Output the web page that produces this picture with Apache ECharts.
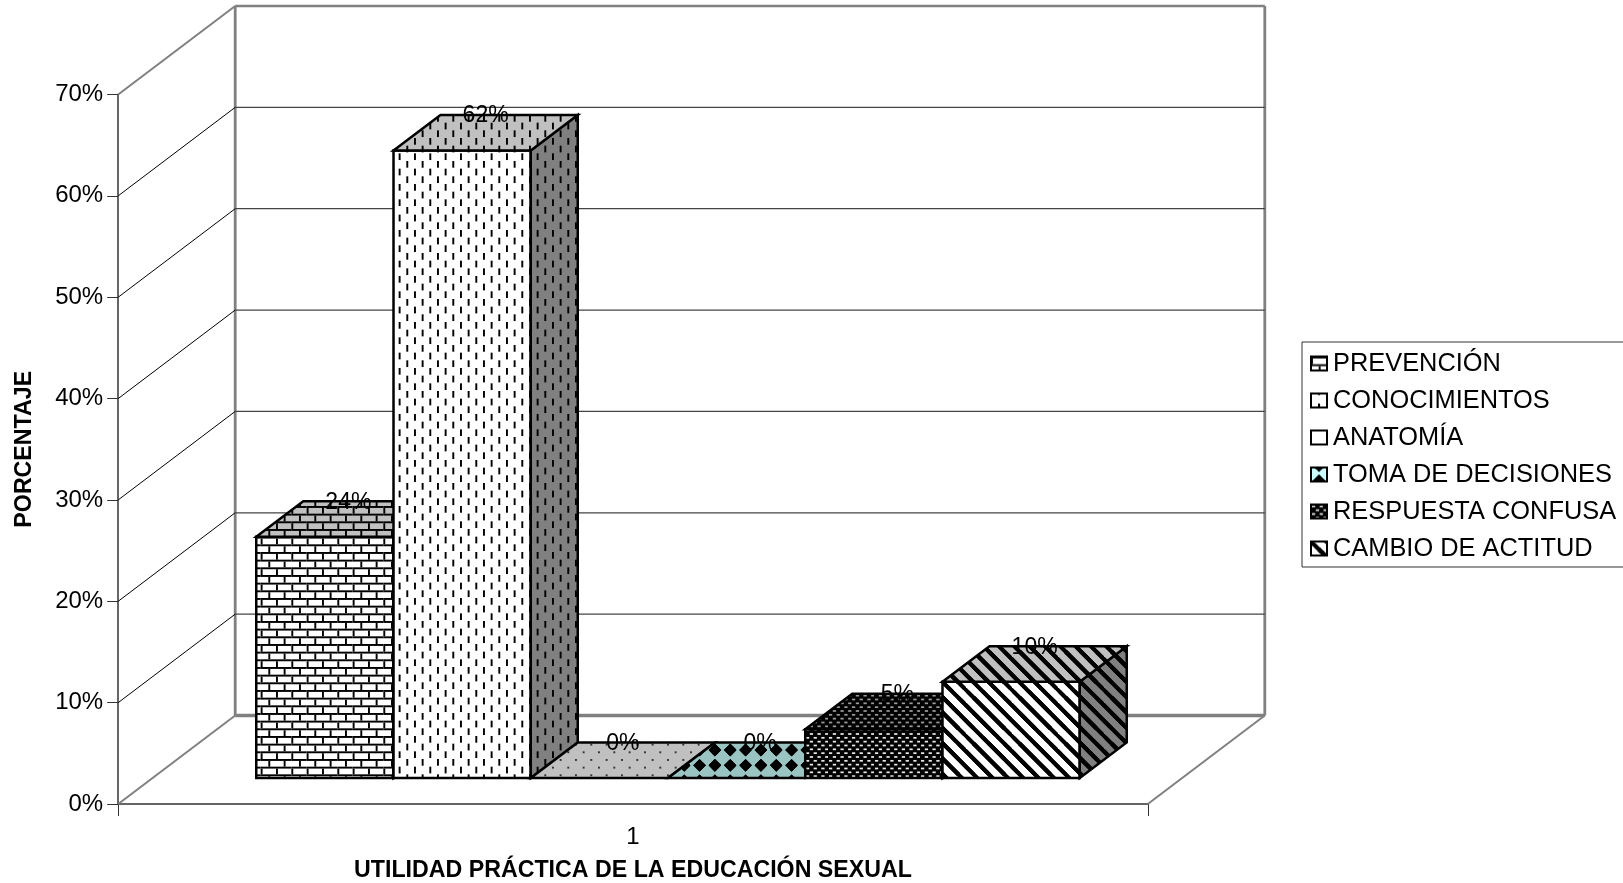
<!DOCTYPE html>
<html><head><meta charset="utf-8">
<style>html,body{margin:0;padding:0;background:#fff}#c{width:1623px;height:883px}</style>
<script src="https://cdn.jsdelivr.net/npm/echarts@6/dist/echarts.min.js"></script>
</head><body><div id="c"></div>
<script>
var categories = ['1'];
var yTicks = [0, 10, 20, 30, 40, 50, 60, 70];
var seriesNames = ['PREVENCIÓN', 'CONOCIMIENTOS', 'ANATOMÍA', 'TOMA DE DECISIONES', 'RESPUESTA CONFUSA', 'CAMBIO DE ACTITUD'];
var prevencion = [23.8];
var conocimientos = [61.9];
var anatomia = [0];
var tomaDecisiones = [0];
var respuestaConfusa = [4.8];
var cambioActitud = [9.5];
var seriesValues = [prevencion, conocimientos, anatomia, tomaDecisiones, respuestaConfusa, cambioActitud];

var FONT = '"Liberation Sans", Arial, sans-serif';
// oblique projection of the 3D scene, in px
var WALL_DX = 117, WALL_DY = 88.5;
var BAR_DX = 47, BAR_DY = 35.5;
var FRONT_DX = 35, FRONT_DY = 26;
var BAR_BAND = 0.1333; // fraction of the category band per bar

function tile(bg, paint) {
  var T = 46, c = document.createElement('canvas');
  c.width = c.height = T;
  var g = c.getContext('2d');
  g.fillStyle = bg; g.fillRect(0, 0, T, T);
  g.save(); g.scale(T / 24, T / 24);
  for (var i = 0; i < 3; i++) for (var j = 0; j < 3; j++) {
    g.save(); g.translate(i * 8, j * 8); g.fillStyle = '#000'; g.strokeStyle = '#000'; paint(g); g.restore();
  }
  g.restore();
  return { image: c, repeat: 'repeat' };
}
function diamond(g, x, y, r) {
  g.beginPath(); g.moveTo(x, y - r); g.lineTo(x + r, y); g.lineTo(x, y + r); g.lineTo(x - r, y); g.closePath(); g.fill();
}
var painters = [
  function (g) { g.fillRect(0, 0, 8, 1); g.fillRect(0, 4, 8, 1); g.fillRect(0, 1, 1, 3); g.fillRect(4, 5, 1, 3); },
  function (g) { g.fillRect(0, 0, 1, 3.5); g.fillRect(4, 4, 1, 3.5); },
  function (g) { g.fillStyle = '#333'; g.fillRect(0, 0, 1, 1); g.fillRect(4, 4, 1, 1); },
  function (g) {
    [[5, 7.3], [-3, 7.3], [13, 7.3], [5, -0.7], [-3, -0.7], [13, -0.7]].forEach(function (p) { diamond(g, p[0], p[1], 3.2); });
  },
  null,
  function (g) {
    g.lineWidth = 2; g.lineCap = 'butt';
    [-8, 0, 8].forEach(function (k) { g.beginPath(); g.moveTo(k - 4, -4); g.lineTo(k + 12, 12); g.stroke(); });
  }
];
function facePatterns(i) {
  function mk(bg, hole) {
    if (i === 4) {
      return tile('#000', function (g) {
        g.fillStyle = hole;
        [[0.5, 0.5], [4.5, 0.5], [2.5, 2.5], [6.5, 2.5], [0.5, 4.5], [4.5, 4.5], [2.5, 6.5], [6.5, 6.5]].forEach(function (p) {
          g.fillRect(p[0], p[1], 1.7, 0.9);
        });
      });
    }
    return tile(bg, painters[i]);
  }
  var teal = i === 3;
  return {
    front: mk(teal ? '#CCFFFF' : '#FFFFFF', '#E8E8E8'),
    top: mk(teal ? '#99C4C2' : '#C0C0C0', '#9A9A9A'),
    side: mk(teal ? '#669090' : '#808080', '#777777')
  };
}
// legend swatches show one centred motif of the hatch (pattern origin is the legend item's corner)
function legendPattern(i) {
  if (i === 1) return tile('#FFFFFF', function (g) { g.fillRect(3.67, 5.25, 1, 3.5); g.fillRect(3.67, -2.75, 1, 3.5); });
  if (i === 2) return '#FFFFFF';
  if (i === 3) return tile('#CCFFFF', function (g) {
    [[4.17, 7], [4.17, -1]].forEach(function (p) { diamond(g, p[0], p[1], 3.4); });
  });
  return facePatterns(i).front;
}

function barSeries(i) {
  var pats = facePatterns(i);
  return {
    name: seriesNames[i],
    type: 'custom',
    silent: true,
    coordinateSystem: 'cartesian2d',
    itemStyle: { color: pats.front, borderColor: '#000', borderWidth: 1.5 },
    data: seriesValues[i].map(function (v, k) { return [categories[k], v]; }),
    encode: { x: 0, y: 1 },
    renderItem: function (params, api) {
      var value = api.value(1);
      var c = api.coord([api.value(0), value]);
      var base = api.coord([api.value(0), 0]);
      var band = api.size([1, 0])[0];
      var w = band * BAR_BAND;
      var x0 = c[0] + FRONT_DX + (i - 3) * w;
      var x1 = x0 + w;
      var yb = base[1] - FRONT_DY;
      var yt = c[1] - FRONT_DY;
      var lw = 2.5;
      function poly(pts, fill) {
        return { type: 'polygon', shape: { points: pts }, style: { fill: fill, stroke: '#000', lineWidth: lw, lineJoin: 'miter' } };
      }
      var children = [];
      if (value > 0) {
        children.push(poly([[x0, yb], [x1, yb], [x1, yt], [x0, yt]], pats.front));
        children.push(poly([[x1, yb], [x1 + BAR_DX, yb - BAR_DY], [x1 + BAR_DX, yt - BAR_DY], [x1, yt]], pats.side));
      }
      children.push(poly([[x0, yt], [x1, yt], [x1 + BAR_DX, yt - BAR_DY], [x0 + BAR_DX, yt - BAR_DY]], pats.top));
      children.push({
        type: 'text', z2: 100,
        style: {
          text: Math.round(value) + '%',
          x: (x0 + x1) / 2 + BAR_DX / 2, y: yt - BAR_DY + 1,
          align: 'center', verticalAlign: 'middle',
          fill: '#000', font: '23px ' + FONT
        }
      });
      return { type: 'group', children: children };
    }
  };
}

var wallSeries = {
  name: 'walls',
  type: 'custom',
  silent: true,
  coordinateSystem: 'cartesian2d',
  data: yTicks.map(function (t) { return [categories[0], t]; }),
  encode: { x: 0, y: 1 },
  renderItem: function (params, api) {
    var cs = params.coordSys;
    var v = api.value(1);
    var y = api.coord([api.value(0), v])[1];
    var xl = cs.x, xr = cs.x + cs.width;
    var bx0 = xl + WALL_DX, bx1 = xr + WALL_DX, by = y - WALL_DY;
    function line(a, b, c, d, col, w) {
      return { type: 'line', shape: { x1: a, y1: b, x2: c, y2: d }, style: { stroke: col, lineWidth: w } };
    }
    var ch = [];
    var isBase = v === 0, isTop = v === 70;
    var grey = '#808080';
    ch.push(line(bx0, by, bx1, by, isBase ? grey : (isTop ? grey : '#444'), isBase ? 3.6 : (isTop ? 2.6 : 1.3)));
    ch.push(line(xl, y, bx0, by, (isBase || isTop) ? grey : '#000', (isBase || isTop) ? 2 : 1));
    if (isBase) {
      ch.push(line(xr, y, bx1, by, grey, 2));
      ch.push(line(bx0, by, bx0, cs.y - WALL_DY, grey, 2.8));
      ch.push(line(bx1, by, bx1, cs.y - WALL_DY, grey, 2.8));
    }
    return { type: 'group', children: ch };
  }
};

var option = {
  animation: false,
  backgroundColor: '#fff',
  grid: { left: 118.2, top: 94.5, width: 1029.6, height: 709.5, containLabel: false, outerBoundsMode: 'none' },
  xAxis: {
    type: 'category', data: categories,
    axisLine: { lineStyle: { color: '#333', width: 1.5 } },
    axisTick: { show: true, length: 12, lineStyle: { color: '#333', width: 1 } },
    axisLabel: { color: '#000', fontFamily: FONT, fontSize: 24, margin: 21 },
    name: 'UTILIDAD PRÁCTICA DE LA EDUCACIÓN SEXUAL', nameLocation: 'middle', nameGap: 55,
    nameTextStyle: { color: '#000', fontFamily: FONT, fontSize: 23.2, fontWeight: 'bold' }
  },
  yAxis: {
    type: 'value', min: 0, max: 70, interval: 10,
    splitLine: { show: false },
    axisLine: { show: true, lineStyle: { color: '#333', width: 1.5 } },
    axisTick: { show: true, length: 11, lineStyle: { color: '#333', width: 1 } },
    axisLabel: { color: '#000', fontFamily: FONT, fontSize: 24, margin: 15, padding: [4, 0, 0, 0], formatter: '{value}%' },
    name: 'PORCENTAJE', nameLocation: 'middle', nameGap: 82,
    nameTextStyle: { color: '#000', fontFamily: FONT, fontSize: 23.2, fontWeight: 'bold' }
  },
  legend: {
    orient: 'vertical', left: 1302, top: 342,
    padding: [8, 60, 5, 8],
    borderColor: '#333', borderWidth: 1, backgroundColor: '#fff',
    itemWidth: 16, itemHeight: 14, itemGap: 10, selectedMode: false,
    textStyle: { color: '#000', fontFamily: FONT, fontSize: 25.4, lineHeight: 27, padding: [0, 0, 0, 1] },
    data: seriesNames.map(function (n, i) {
      return { name: n, icon: 'rect', itemStyle: { color: legendPattern(i), borderColor: '#000', borderWidth: 2 } };
    })
  },
  series: [wallSeries].concat(seriesNames.map(function (n, i) { return barSeries(i); }))
};
var chart = echarts.init(document.getElementById('c'));
chart.setOption(option);
</script></body></html>
